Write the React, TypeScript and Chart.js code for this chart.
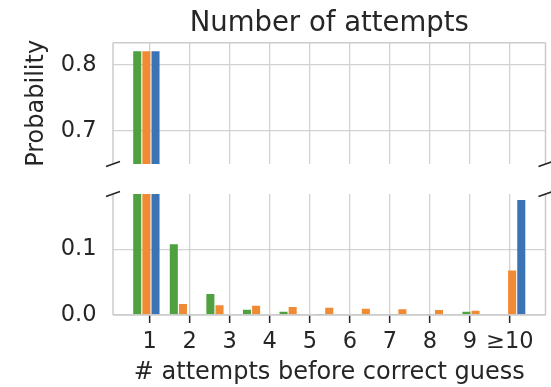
import React, { useEffect, useRef } from 'react';
import { Chart, registerables } from 'chart.js';

Chart.register(...registerables);

// ---- data ----
const binIndex = [0, 1, 2, 3, 4, 5, 6, 7, 8, 9, 10];
const tickLabels = ['1', '2', '3', '4', '5', '6', '7', '8', '9', '≥10'];
const seriesGreen = [0.821, 0.108, 0.032, 0.008, 0.005, 0.0005, 0.0015, 0.0005, 0.0015, 0.005, 0];
const seriesOrange = [0.821, 0.017, 0.015, 0.014, 0.0123, 0.011, 0.0096, 0.0087, 0.0076, 0.0066, 0.068];
const seriesBlue = [0.821, 0, 0, 0, 0, 0, 0, 0, 0, 0, 0.176];
const topTicks = [0.7, 0.8];
const bottomTicks = [0.0, 0.1];
const topRange = [0.65, 0.834];
const bottomRange = [0, 0.185];
const xRange = [-0.9125, 10.9125];
const xTickFirst = 0.09;
const xTickLast = 9.94;

// ---- layout / style ----
const W = 551;
const H = 387;
const PLOT_LEFT = 113;
const PLOT_RIGHT = 545.5;
const TOP_PANEL = [42.7, 164];
const BOTTOM_PANEL = [194, 315];
const FONT = "'DejaVu Sans', sans-serif";
const TEXT = '#262626';
const GRID = '#d2d2d2';
const SPINE = '#cccccc';
const COLORS = ['#4fa03f', '#f08a34', '#3b74b6'];

const xTickValues = () =>
  tickLabels.map((_, j) => xTickFirst + ((xTickLast - xTickFirst) * j) / (tickLabels.length - 1));

const framePlugin = {
  id: 'frame',
  afterDatasetsDraw(chart: any, _args: any, opts: any) {
    const { ctx, chartArea: a } = chart;
    ctx.save();
    ctx.strokeStyle = SPINE;
    ctx.lineWidth = 1.5;
    ctx.beginPath();
    for (const side of opts.sides as string[]) {
      if (side === 'left') { ctx.moveTo(a.left, a.top); ctx.lineTo(a.left, a.bottom); }
      if (side === 'right') { ctx.moveTo(a.right, a.top); ctx.lineTo(a.right, a.bottom); }
      if (side === 'top') { ctx.moveTo(a.left, a.top); ctx.lineTo(a.right, a.top); }
      if (side === 'bottom') { ctx.moveTo(a.left, a.bottom); ctx.lineTo(a.right, a.bottom); }
    }
    ctx.stroke();
    ctx.restore();
  },
  afterDraw(chart: any, _args: any, opts: any) {
    const { ctx, chartArea: a } = chart;
    const y = opts.breakEdge === 'bottom' ? a.bottom : a.top;
    ctx.save();
    ctx.strokeStyle = TEXT;
    ctx.lineWidth = 1.6;
    ctx.beginPath();
    for (const x of [a.left, a.right]) {
      ctx.moveTo(x - 7, y + 2.5);
      ctx.lineTo(x + 7, y - 2.5);
    }
    ctx.stroke();
    ctx.restore();
  },
};

function makeDatasets() {
  const series = [seriesGreen, seriesOrange, seriesBlue];
  return series.map((s, k) => ({
    data: binIndex.map((x, i) => ({ x, y: s[i] })),
    backgroundColor: COLORS[k],
    borderWidth: 0,
    clip: 0,
  }));
}

function xScale(showLabels: boolean, height: number) {
  return {
    type: 'linear',
    bounds: 'data',
    min: xRange[0],
    max: xRange[1],
    offset: false,
    afterBuildTicks: (s: any) => {
      s.ticks = xTickValues().map((v) => ({ value: v }));
    },
    afterFit: (s: any) => {
      s.height = height;
    },
    ticks: {
      display: showLabels,
      autoSkip: false,
      maxRotation: 0,
      minRotation: 0,
      padding: 5.5,
      color: TEXT,
      font: { family: FONT, size: 22.5 },
      callback: (_v: any, i: number) => tickLabels[i],
    },
    grid: {
      offset: false,
      color: GRID,
      lineWidth: 1.3,
      drawTicks: showLabels,
      tickLength: 8,
      tickColor: TEXT,
      tickWidth: 1.5,
    },
    border: { display: false },
    title: {
      display: showLabels,
      text: '# attempts before correct guess',
      color: TEXT,
      font: { family: FONT, size: 24 },
      padding: { top: 0, bottom: 0 },
    },
  };
}

function yScale(range: number[], ticks: number[], withTitle: boolean) {
  return {
    type: 'linear',
    bounds: 'data',
    min: range[0],
    max: range[1],
    afterBuildTicks: (s: any) => {
      s.ticks = ticks.map((v) => ({ value: v }));
    },
    afterFit: (s: any) => {
      s.width = PLOT_LEFT;
    },
    ticks: {
      padding: 16.5,
      color: TEXT,
      font: { family: FONT, size: 22.5 },
      callback: (v: any) => Number(v).toFixed(1),
    },
    grid: { color: GRID, lineWidth: 1.3, drawTicks: false },
    border: { display: false },
    title: {
      display: withTitle,
      text: 'Probability',
      color: TEXT,
      font: { family: FONT, size: 24 },
      padding: { top: 22.8, bottom: 0 },
    },
  };
}

function baseOptions() {
  return {
    responsive: false,
    animation: false,
    devicePixelRatio: 1,
    datasets: { bar: { categoryPercentage: 0.75, barPercentage: 0.88 } },
  };
}

function topConfig(): any {
  return {
    type: 'bar',
    data: { datasets: makeDatasets() },
    plugins: [framePlugin],
    options: {
      ...baseOptions(),
      layout: {
        autoPadding: false,
        padding: { left: 0, right: W - PLOT_RIGHT, top: 0, bottom: H - TOP_PANEL[1] },
      },
      plugins: {
        legend: { display: false },
        tooltip: { enabled: false },
        title: {
          display: true,
          text: 'Number of attempts',
          fullSize: false,
          color: TEXT,
          font: { family: FONT, size: 27.5, weight: 'normal', lineHeight: 1.2 },
          padding: { top: 7, bottom: TOP_PANEL[0] - 7 - 27.5 * 1.2 },
        },
        frame: { sides: ['left', 'top', 'right'], breakEdge: 'bottom' },
      },
      scales: {
        x: xScale(false, 0),
        y: yScale(topRange, topTicks, true),
      },
    },
  };
}

function bottomConfig(): any {
  return {
    type: 'bar',
    data: { datasets: makeDatasets() },
    plugins: [framePlugin],
    options: {
      ...baseOptions(),
      layout: {
        autoPadding: false,
        padding: { left: 0, right: W - PLOT_RIGHT, top: BOTTOM_PANEL[0], bottom: 0 },
      },
      plugins: {
        legend: { display: false },
        tooltip: { enabled: false },
        title: { display: false },
        frame: { sides: ['left', 'bottom', 'right'], breakEdge: 'top' },
      },
      scales: {
        x: xScale(true, H - BOTTOM_PANEL[1]),
        y: yScale(bottomRange, bottomTicks, false),
      },
    },
  };
}

export default function App() {
  const topRef = useRef<HTMLCanvasElement>(null);
  const botRef = useRef<HTMLCanvasElement>(null);

  useEffect(() => {
    const c1 = new Chart(topRef.current as HTMLCanvasElement, topConfig());
    const c2 = new Chart(botRef.current as HTMLCanvasElement, bottomConfig());
    return () => {
      c1.destroy();
      c2.destroy();
    };
  }, []);

  const canvasStyle: React.CSSProperties = {
    position: 'absolute',
    left: 0,
    top: 0,
    width: W,
    height: H,
  };

  return (
    <div style={{ position: 'fixed', left: 0, top: 0, width: W, height: H, background: '#ffffff' }}>
      <canvas ref={topRef} width={W} height={H} style={canvasStyle} />
      <canvas ref={botRef} width={W} height={H} style={canvasStyle} />
    </div>
  );
}
